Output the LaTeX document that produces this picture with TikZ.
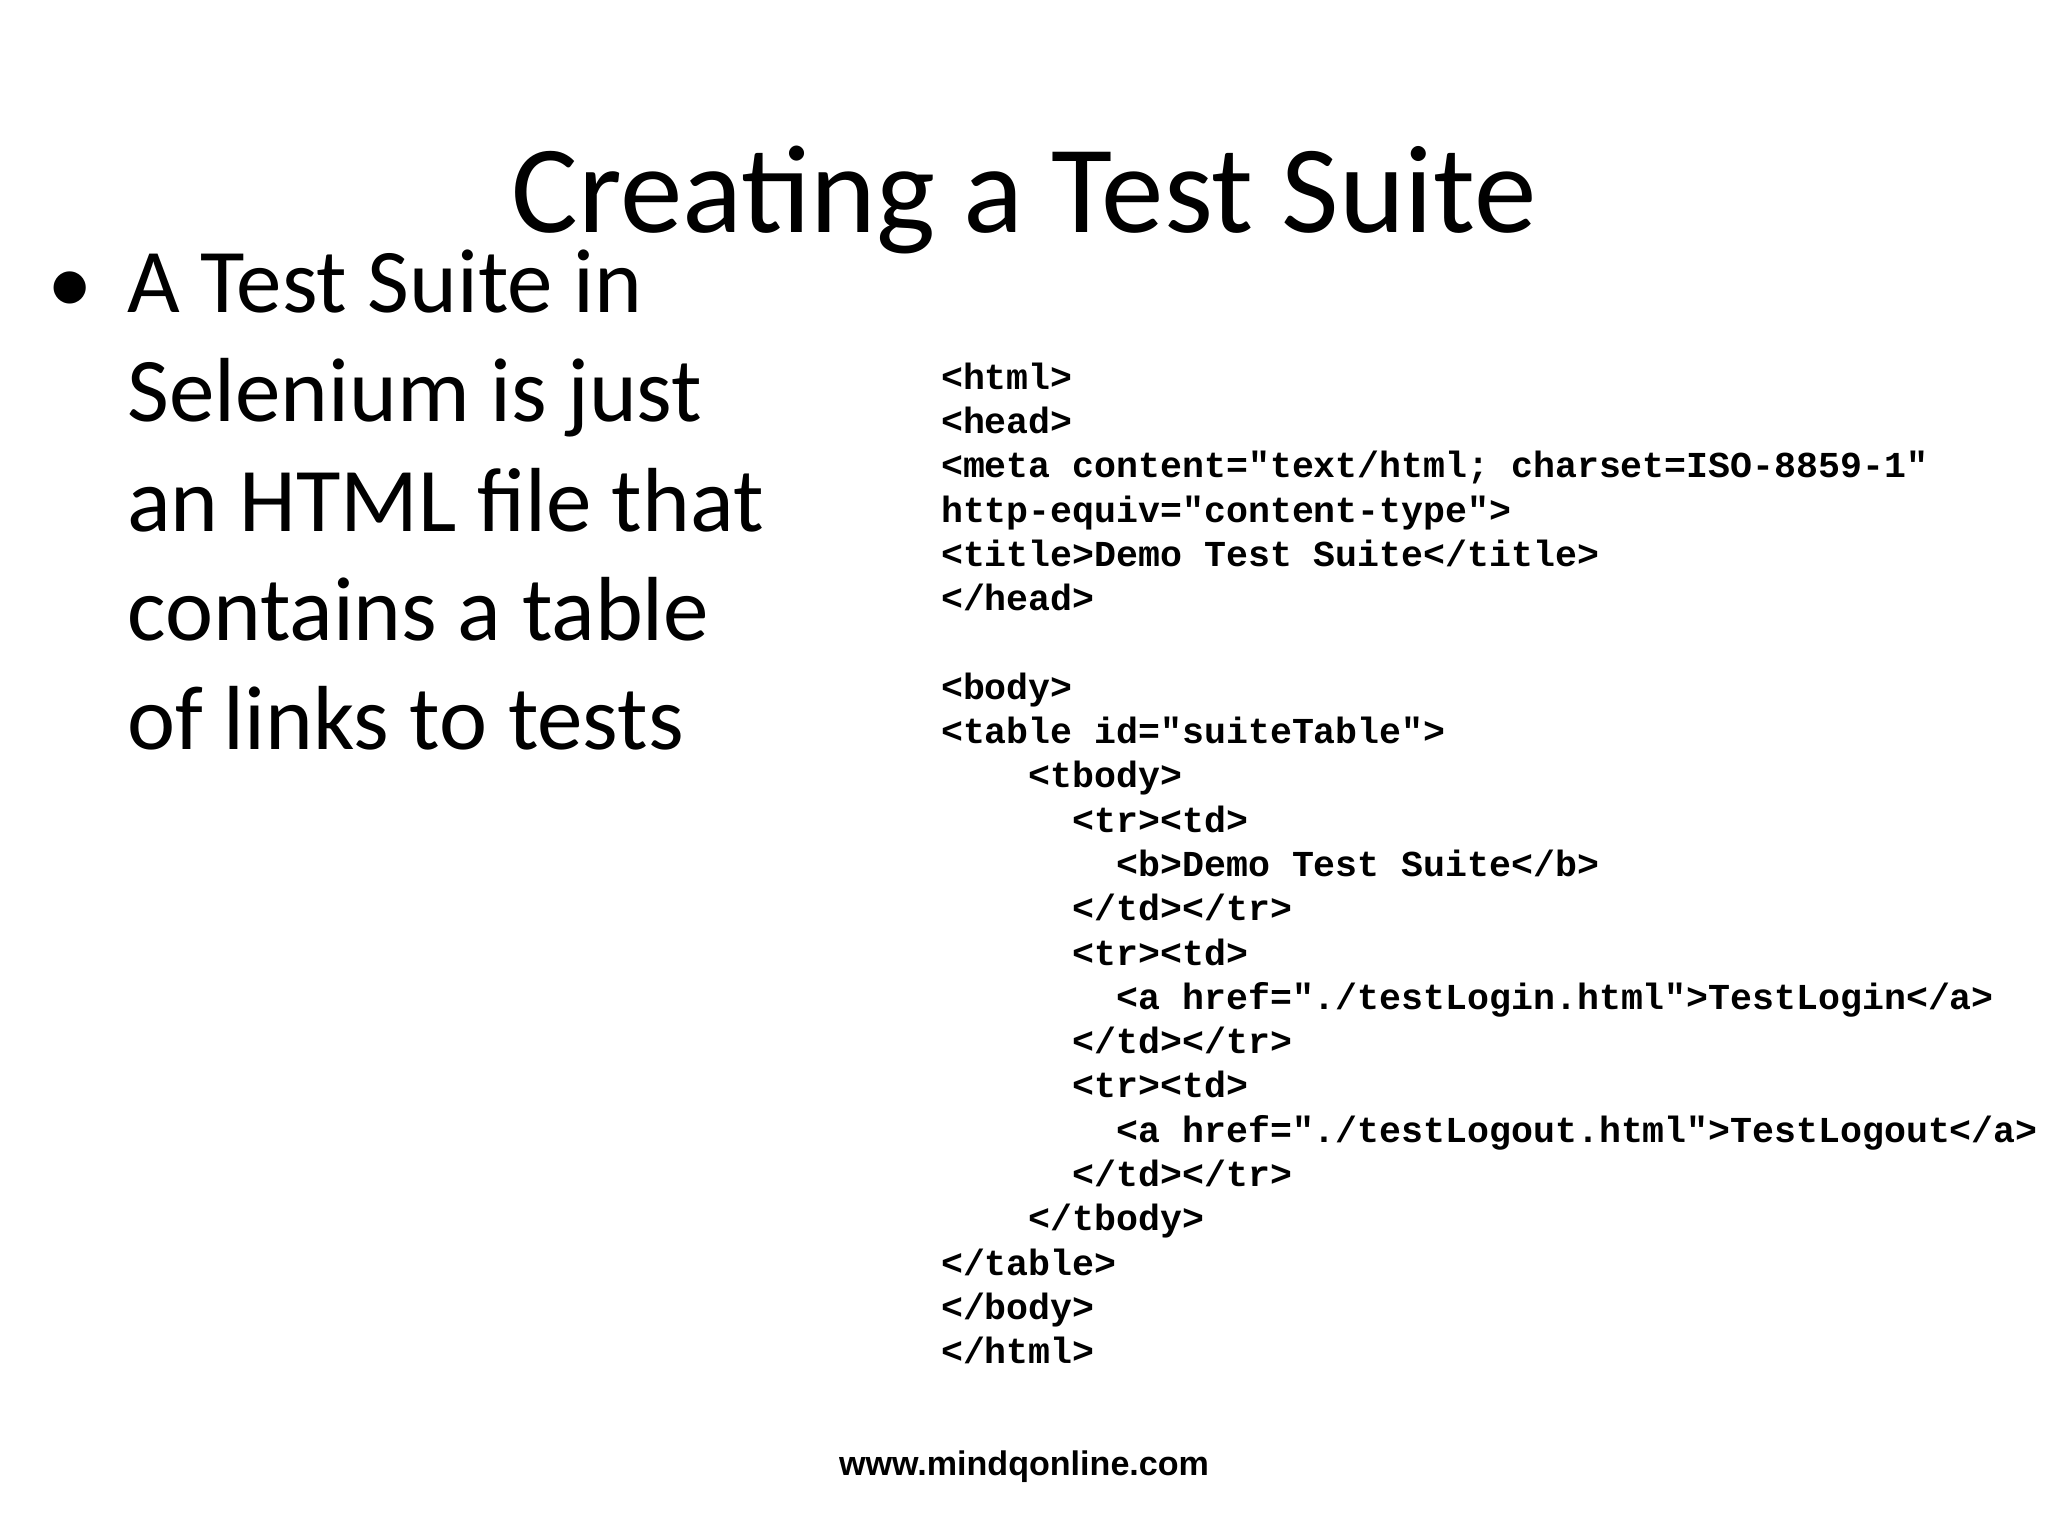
\documentclass[tikz,border=0pt]{standalone}
\usepackage{fontspec}
\setmainfont{Carlito}
\newfontfamily\codefont{Liberation Mono}
\newfontfamily\footfont{Liberation Sans}
\begin{document}
\begin{tikzpicture}[x=0.013061cm,y=-0.013061cm]
\useasboundingbox (0,0) rectangle (1568,1176);
\tikzset{codeline/.style={anchor=base west,inner sep=0pt,font=\codefont\bfseries\fontsize{10.4pt}{12.6pt}\selectfont}}
\node[anchor=base,inner sep=0pt,font=\fontsize{35.6pt}{42pt}\selectfont] (title) at (784,178) {Creating a Test Suite};
\node[anchor=base west,inner sep=0pt,font=\fontsize{25.9pt}{30pt}\selectfont] (bullet) at (36,240) {•};
\node[anchor=base west,inner sep=0pt,align=left,font=\fontsize{25.9pt}{31.1pt}\selectfont] (text) at (97,574) {A Test Suite in\\Selenium is just\\an HTML file that\\contains a table\\of links to tests};
\node[codeline,align=left] (code) at (720,1044) {<html>\\<head>\\<meta content="text/html; charset=ISO-8859-1"\\http-equiv="content-type">\\<title>Demo Test Suite</title>\\</head>\\~\\<body>\\<table id="suiteTable">\\~~~~<tbody>\\~~~~~~<tr><td>\\~~~~~~~~<b>Demo Test Suite</b>\\~~~~~~</td></tr>\\~~~~~~<tr><td>\\~~~~~~~~<a href="./testLogin.html">TestLogin</a>\\~~~~~~</td></tr>\\~~~~~~<tr><td>\\~~~~~~~~<a href="./testLogout.html">TestLogout</a>\\~~~~~~</td></tr>\\~~~~</tbody>\\</table>\\</body>\\</html>};
\node[anchor=base,inner sep=0pt,font=\footfont\bfseries\fontsize{9.7pt}{12pt}\selectfont] (foot) at (784,1130) {www.mindqonline.com};
\end{tikzpicture}
\end{document}
